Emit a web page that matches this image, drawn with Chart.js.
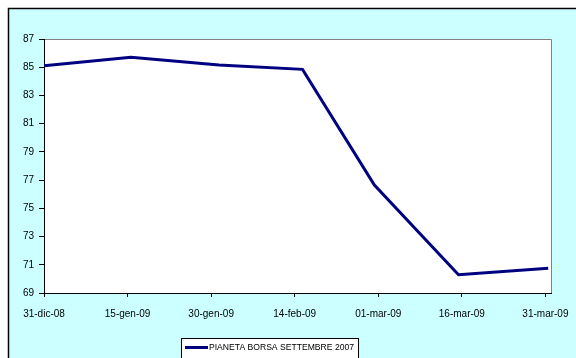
<!DOCTYPE html>
<html>
<head>
<meta charset="utf-8">
<script src="https://cdn.jsdelivr.net/npm/chart.js@4/dist/chart.umd.min.js"></script>
<style>
  html, body { margin: 0; padding: 0; background: #ffffff; }
  #wrap { width: 576px; height: 358px; }
</style>
</head>
<body>
<div id="wrap"><canvas id="c" width="576" height="358"></canvas></div>
<script>
// Days elapsed since 31-dic-08 for each quotation
const days = [0, 15.6, 31.4, 46.4, 59.3, 74.4, 90.5];
// Fund value
const values = [85.1, 85.7, 85.15, 84.85, 76.65, 70.3, 70.75];
const seriesName = 'PIANETA BORSA SETTEMBRE 2007';

// Date axis ticks (every 15 days)
const tickDays = [0, 15, 30, 45, 60, 75, 90];
const tickLabels = ['31-dic-08', '15-gen-09', '30-gen-09', '14-feb-09', '01-mar-09', '16-mar-09', '31-mar-09'];
const yTicks = [69, 71, 73, 75, 77, 79, 81, 83, 85, 87];

const FONT = '"Liberation Sans", Arial, sans-serif';
const BG = '#ccffff';
const LINE = '#000080';

const frame = {
  id: 'frame',
  beforeDraw(chart) {
    const ctx = chart.ctx;
    const a = chart.chartArea;
    ctx.save();
    ctx.fillStyle = '#ffffff';
    ctx.fillRect(0, 0, chart.width, chart.height);
    ctx.fillStyle = BG;
    ctx.fillRect(8, 8, chart.width - 8, chart.height - 8);
    ctx.strokeStyle = '#000000';
    ctx.lineWidth = 1.5;
    ctx.beginPath();
    ctx.moveTo(8.5, chart.height);
    ctx.lineTo(8.5, 8.5);
    ctx.lineTo(chart.width, 8.5);
    ctx.stroke();
    // plot area
    ctx.fillStyle = '#ffffff';
    ctx.fillRect(a.left, a.top, a.right - a.left, a.bottom - a.top);
    ctx.strokeStyle = '#808080';
    ctx.lineWidth = 1;
    ctx.beginPath();
    ctx.moveTo(a.left, a.top + 0.5);
    ctx.lineTo(a.right + 0.5, a.top + 0.5);
    ctx.lineTo(a.right + 0.5, a.bottom);
    ctx.stroke();
    ctx.restore();
  },
  afterDraw(chart) {
    const ctx = chart.ctx;
    const ds = chart.data.datasets[0];
    ctx.save();
    ctx.font = '8.6px ' + FONT;
    const tw = ctx.measureText(ds.label).width;
    const bx = 181, by = 338.5, bh = 22;
    const bw = 28 + tw + 4;
    ctx.fillStyle = '#ffffff';
    ctx.fillRect(bx, by, bw, bh);
    ctx.strokeStyle = '#000000';
    ctx.lineWidth = 1;
    ctx.strokeRect(bx + 0.5, by, bw, bh);
    ctx.strokeStyle = ds.borderColor;
    ctx.lineWidth = 3;
    ctx.beginPath();
    ctx.moveTo(bx + 4, by + 9);
    ctx.lineTo(bx + 27, by + 9);
    ctx.stroke();
    ctx.fillStyle = '#000000';
    ctx.textBaseline = 'middle';
    ctx.fillText(ds.label, bx + 28, by + 9.5);
    ctx.restore();
  }
};

new Chart(document.getElementById('c'), {
  type: 'line',
  data: {
    datasets: [{
      label: seriesName,
      data: days.map((d, i) => ({ x: d, y: values[i] })),
      borderColor: LINE,
      backgroundColor: LINE,
      borderWidth: 3,
      pointRadius: 0,
      tension: 0,
      fill: false
    }]
  },
  options: {
    responsive: false,
    animation: false,
    layout: { padding: { left: 0, top: 39, right: 25, bottom: 0 } },
    plugins: { legend: { display: false }, tooltip: { enabled: false } },
    scales: {
      x: {
        type: 'linear',
        min: 0,
        max: 91,
        afterBuildTicks(scale) { scale.ticks = tickDays.map(v => ({ value: v })); },
        afterFit(scale) { scale.height = 65; scale.paddingLeft = 0; scale.paddingRight = 0; },
        grid: { drawOnChartArea: false, drawTicks: true, tickLength: 4, color: '#000000', tickColor: '#000000' },
        border: { display: true, color: '#000000', width: 1 },
        ticks: {
          autoSkip: false, maxRotation: 0, minRotation: 0, padding: 11,
          color: '#000000', font: { family: FONT, size: 10 },
          callback: (v) => { const i = tickDays.indexOf(v); return i >= 0 ? tickLabels[i] : ''; }
        }
      },
      y: {
        min: 69,
        max: 87,
        afterBuildTicks(scale) { scale.ticks = yTicks.map(v => ({ value: v })); },
        afterFit(scale) { scale.width = 44; scale.paddingTop = 0; scale.paddingBottom = 0; },
        grid: { drawOnChartArea: false, drawTicks: true, tickLength: 5, color: '#000000', tickColor: '#000000' },
        border: { display: true, color: '#000000', width: 1 },
        ticks: {
          padding: 5, color: '#000000', font: { family: FONT, size: 10 },
          callback: (v) => String(v)
        }
      }
    }
  },
  plugins: [frame]
});
</script>
</body>
</html>
